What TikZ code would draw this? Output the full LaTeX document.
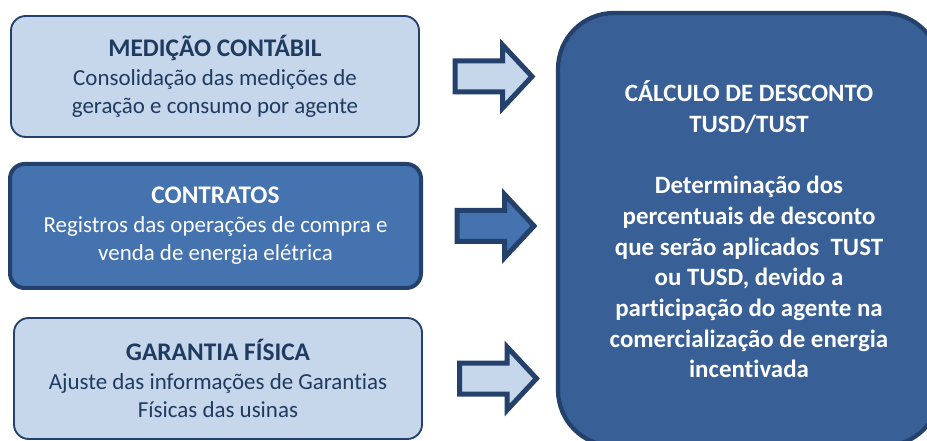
\documentclass[tikz,border=0pt]{standalone}
\usepackage{fontspec}
\setmainfont[Ligatures=NoCommon]{Carlito}
\usetikzlibrary{shapes.arrows}
\usetikzlibrary{positioning}
\definecolor{lightfill}{HTML}{C6D6EB}
\definecolor{midfill}{HTML}{4473B0}
\definecolor{bigfill}{HTML}{386097}
\definecolor{edge}{HTML}{23416A}
\definecolor{ink}{HTML}{1F3B60}
\newcommand{\boxtitle}[1]{{\fontsize{19}{21.4}\selectfont\bfseries #1}}
\tikzset{
my node/.style={align=center,inner sep=1mm,font=\fontsize{17.2}{21.4}\selectfont},
my box/.style={my node,draw=edge,rounded corners=11pt,minimum width=306pt,minimum height=90.75pt},
light box/.style={my box,fill=lightfill,text=ink,line width=1.4pt},
dark box/.style={my box,fill=midfill,text=white,line width=3pt,minimum width=308.25pt,minimum height=93pt},
result box/.style={draw=edge,fill=bigfill,text=white,line width=3.2pt,rounded corners=42pt,
  align=center,minimum width=286.5pt,minimum height=324.75pt,font=\fontsize{18.7}{23}\selectfont\bfseries},
my arrow/.style={single arrow,anchor=tail,draw=edge,line width=3.75pt,minimum height=57.75pt,
  single arrow head extend=12pt,single arrow tip angle=94,inner xsep=0pt,inner ysep=9.75pt},
}
\begin{document}
\begin{tikzpicture}[x=0.75pt,y=-0.75pt]
\useasboundingbox (0,0) rectangle (927,441);
\node[light box] (med) at (215,76.5) {\boxtitle{MEDIÇÃO CONTÁBIL}\\Consolidação das medições de\\geração e consumo por agente};
\node[dark box] (con) at (215.5,226) {\boxtitle{CONTRATOS}\\Registros das operações de compra e\\venda de energia elétrica};
\node[light box] (gar) at (218,378.5) {\boxtitle{GARANTIA FÍSICA}\\Ajuste das informações de Garantias\\Físicas das usinas};
\node[result box] (calc) at (749,229.5) {CÁLCULO DE DESCONTO\\TUSD/TUST\\[23pt]Determinação dos\\percentuais de desconto\\que serão aplicados \ TUST\\ou TUSD, devido a\\participação do agente na\\comercialização de energia\\incentivada};
\node[my arrow,fill=lightfill] (a1) at (452.5,76.5) {};
\node[my arrow,fill=midfill] (a2) at (454.5,226) {};
\node[my arrow,fill=lightfill] (a3) at (457,378.5) {};
\end{tikzpicture}
\end{document}
